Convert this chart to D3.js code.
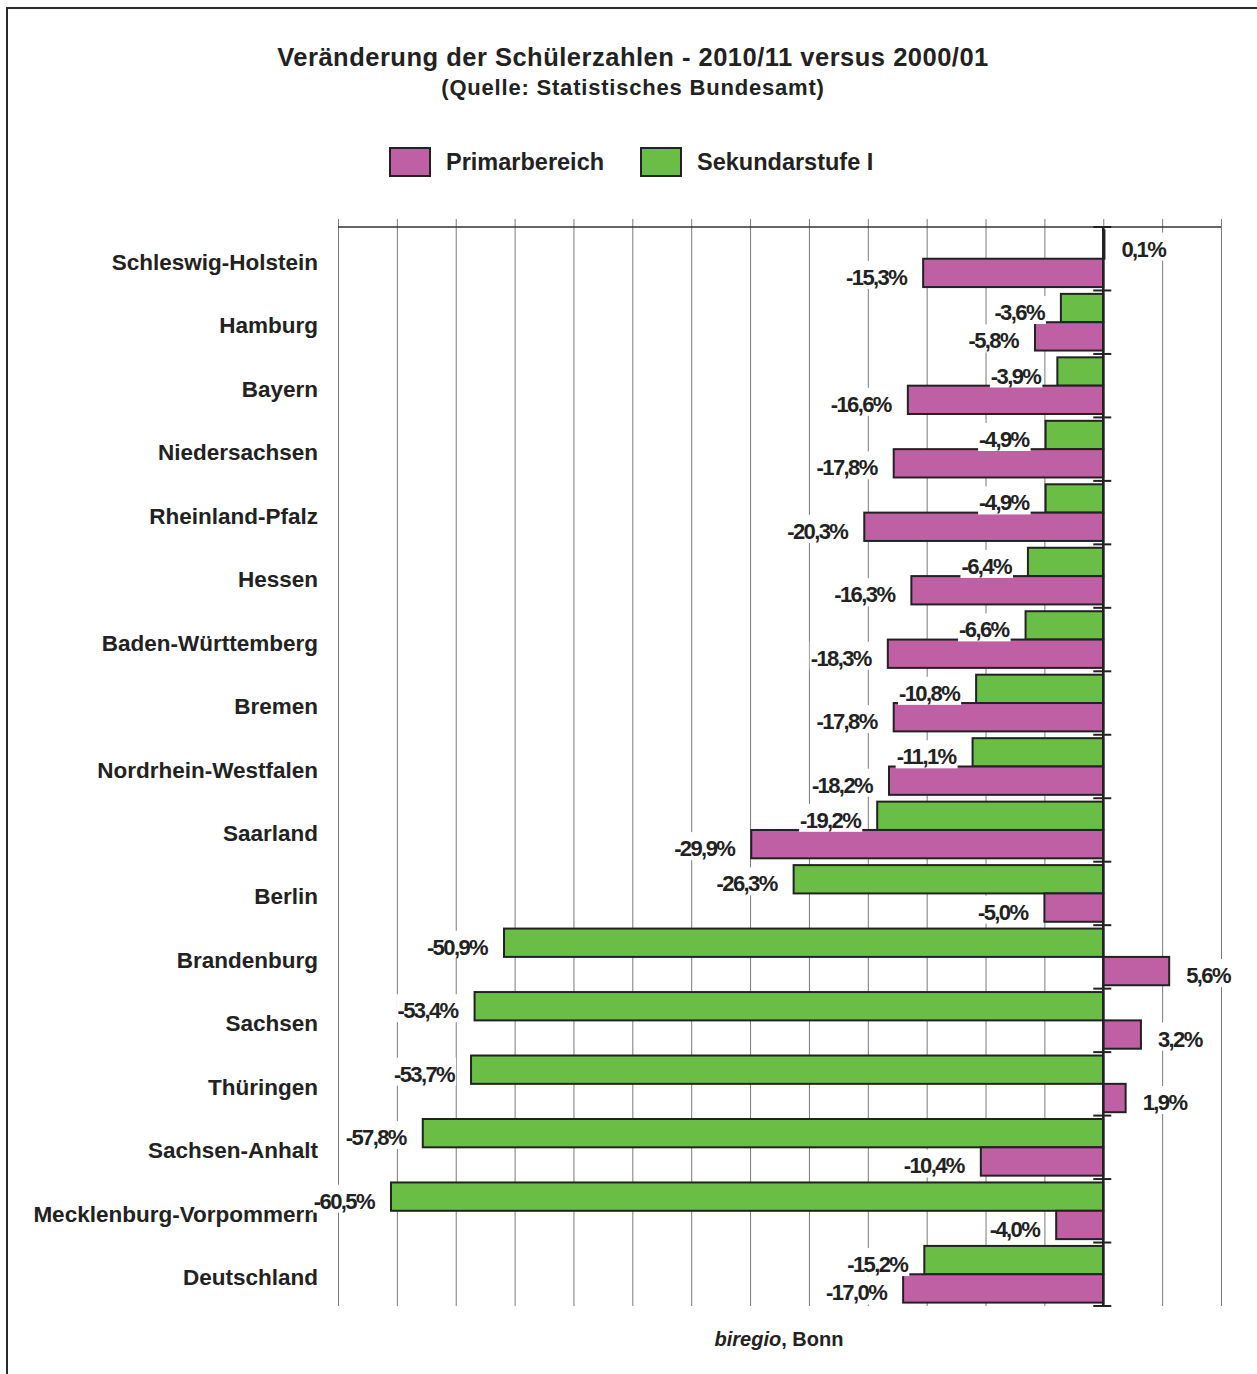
<!DOCTYPE html>
<html>
<head>
<meta charset="utf-8">
<script src="https://cdn.jsdelivr.net/npm/d3@7/dist/d3.min.js"></script>
<style>
  html, body { margin: 0; padding: 0; background: #fff; }
  svg { display: block; font-family: "Liberation Sans", Arial, Helvetica, sans-serif; }
</style>
</head>
<body>
<svg id="chart" width="1257" height="1374"></svg>
<script>
// Bundesländer, top to bottom
const categories = [
  "Schleswig-Holstein", "Hamburg", "Bayern", "Niedersachsen", "Rheinland-Pfalz",
  "Hessen", "Baden-Württemberg", "Bremen", "Nordrhein-Westfalen", "Saarland",
  "Berlin", "Brandenburg", "Sachsen", "Thüringen", "Sachsen-Anhalt",
  "Mecklenburg-Vorpommern", "Deutschland"
];

// Change in pupil numbers 2010/11 vs 2000/01, in percent
const sekundarstufe = [0.1, -3.6, -3.9, -4.9, -4.9, -6.4, -6.6, -10.8, -11.1, -19.2,
                       -26.3, -50.9, -53.4, -53.7, -57.8, -60.5, -15.2];
const primarbereich = [-15.3, -5.8, -16.6, -17.8, -20.3, -16.3, -18.3, -17.8, -18.2, -29.9,
                       -5.0, 5.6, 3.2, 1.9, -10.4, -4.0, -17.0];

const seriesNames = ["Sekundarstufe I", "Primarbereich"];
const legendOrder = ["Primarbereich", "Sekundarstufe I"];
const gridValues = [-65, -60, -55, -50, -45, -40, -35, -30, -25, -20, -15, -10, -5, 0, 5, 10];

const colors = { "Primarbereich": "#bf5fa4", "Sekundarstufe I": "#6abd45" };

const svg = d3.select("#chart");

// Outer frame
svg.append("rect")
  .attr("x", 7).attr("y", 8)
  .attr("width", 1300).attr("height", 1420)
  .attr("fill", "none").attr("stroke", "#2a2a2a").attr("stroke-width", 2);

// Title
svg.append("text")
  .attr("x", 633).attr("y", 66)
  .attr("text-anchor", "middle")
  .attr("font-size", 25.5).attr("font-weight", "bold")
  .attr("letter-spacing", 0.5)
  .attr("fill", "#222")
  .text("Veränderung der Schülerzahlen - 2010/11 versus 2000/01");
svg.append("text")
  .attr("x", 633).attr("y", 95)
  .attr("text-anchor", "middle")
  .attr("font-size", 22).attr("font-weight", "bold")
  .attr("letter-spacing", 0.8)
  .attr("fill", "#222")
  .text("(Quelle: Statistisches Bundesamt)");

// Legend
const legendX = { "Primarbereich": 390, "Sekundarstufe I": 641 };
const legend = svg.append("g");
legendOrder.forEach(name => {
  const g = legend.append("g").attr("transform", `translate(${legendX[name]},148)`);
  g.append("rect")
    .attr("width", 40).attr("height", 28)
    .attr("fill", colors[name]).attr("stroke", "#222").attr("stroke-width", 2);
  g.append("text")
    .attr("x", 56).attr("y", 22)
    .attr("font-size", 23.5).attr("font-weight", "bold")
    .attr("fill", "#222")
    .text(name);
});

// Scales
const x = d3.scaleLinear().domain([-65, 10]).range([338, 1221]);
const y = d3.scaleBand().domain(categories).range([227, 1306]).paddingInner(0).paddingOuter(0);
const ySub = d3.scaleBand().domain(seriesNames).range([0, y.bandwidth()]).paddingInner(0).paddingOuter(0.12);

// Vertical gridlines
const grid = svg.append("g")
  .attr("transform", "translate(0,1306)")
  .call(d3.axisBottom(x).tickValues(gridValues).tickSize(-(1306 - 219)).tickFormat(""));
grid.select(".domain").remove();
grid.selectAll(".tick line").attr("stroke", "#7a7a7a").attr("stroke-width", 1);

// Top rule
svg.append("line")
  .attr("x1", x(-65)).attr("x2", x(10))
  .attr("y1", 227).attr("y2", 227)
  .attr("stroke", "#333").attr("stroke-width", 1.5);

// Bars
const rows = categories.map((c, i) => ({
  cat: c,
  values: [
    { series: "Sekundarstufe I", value: sekundarstufe[i] },
    { series: "Primarbereich", value: primarbereich[i] }
  ]
}));

const rowG = svg.append("g").selectAll("g")
  .data(rows).join("g")
  .attr("transform", d => `translate(0,${y(d.cat)})`);

rowG.selectAll("rect")
  .data(d => d.values).join("rect")
  .attr("x", d => x(Math.min(0, d.value)))
  .attr("y", d => ySub(d.series))
  .attr("width", d => Math.abs(x(d.value) - x(0)))
  .attr("height", ySub.bandwidth())
  .attr("fill", d => colors[d.series])
  .attr("stroke", "#222").attr("stroke-width", 2);

// Zero axis with category ticks
svg.append("line")
  .attr("x1", x(0)).attr("x2", x(0))
  .attr("y1", 227).attr("y2", 1306)
  .attr("stroke", "#222").attr("stroke-width", 2.5);
const boundaries = categories.map(c => y(c)).concat([y.range()[1]]);
svg.append("g").selectAll("line")
  .data(boundaries).join("line")
  .attr("x1", x(0) - 10).attr("x2", x(0) + 8)
  .attr("y1", d => d).attr("y2", d => d)
  .attr("stroke", "#222").attr("stroke-width", 2);

// Category labels
svg.append("g").selectAll("text")
  .data(categories).join("text")
  .attr("x", 318)
  .attr("y", d => y(d) + y.bandwidth() / 2 + 11)
  .attr("text-anchor", "end")
  .attr("font-size", 22.5).attr("font-weight", "bold")
  .attr("fill", "#222")
  .text(d => d);

// Value labels with white backing
const de = d3.formatLocale({ decimal: ",", thousands: ".", grouping: [3], currency: ["", " €"], minus: "-" });
const fmt = v => de.format(".1f")(v) + "%";

const labelG = svg.append("g");
rows.forEach(r => {
  r.values.forEach(d => {
    const cy = y(r.cat) + ySub(d.series) + ySub.bandwidth() / 2;
    const neg = d.value < 0;
    const tx = neg ? x(d.value) - 17 : x(d.value) + 17;
    const g = labelG.append("g");
    const bg = g.append("rect").attr("fill", "#fff");
    const t = g.append("text")
      .attr("x", tx).attr("y", cy + 12)
      .attr("text-anchor", neg ? "end" : "start")
      .attr("font-size", 22).attr("font-weight", "bold")
      .attr("letter-spacing", -1.6)
      .attr("fill", "#222")
      .text(fmt(d.value));
    const bb = t.node().getBBox();
    bg.attr("x", bb.x - 1).attr("y", cy - 12)
      .attr("width", bb.width + 2).attr("height", 28);
  });
});

// Footer
const foot = svg.append("text")
  .attr("x", 779).attr("y", 1346)
  .attr("text-anchor", "middle")
  .attr("font-size", 20).attr("font-weight", "bold")
  .attr("fill", "#222");
foot.append("tspan").attr("font-style", "italic").text("biregio");
foot.append("tspan").text(", Bonn");
</script>
</body>
</html>
